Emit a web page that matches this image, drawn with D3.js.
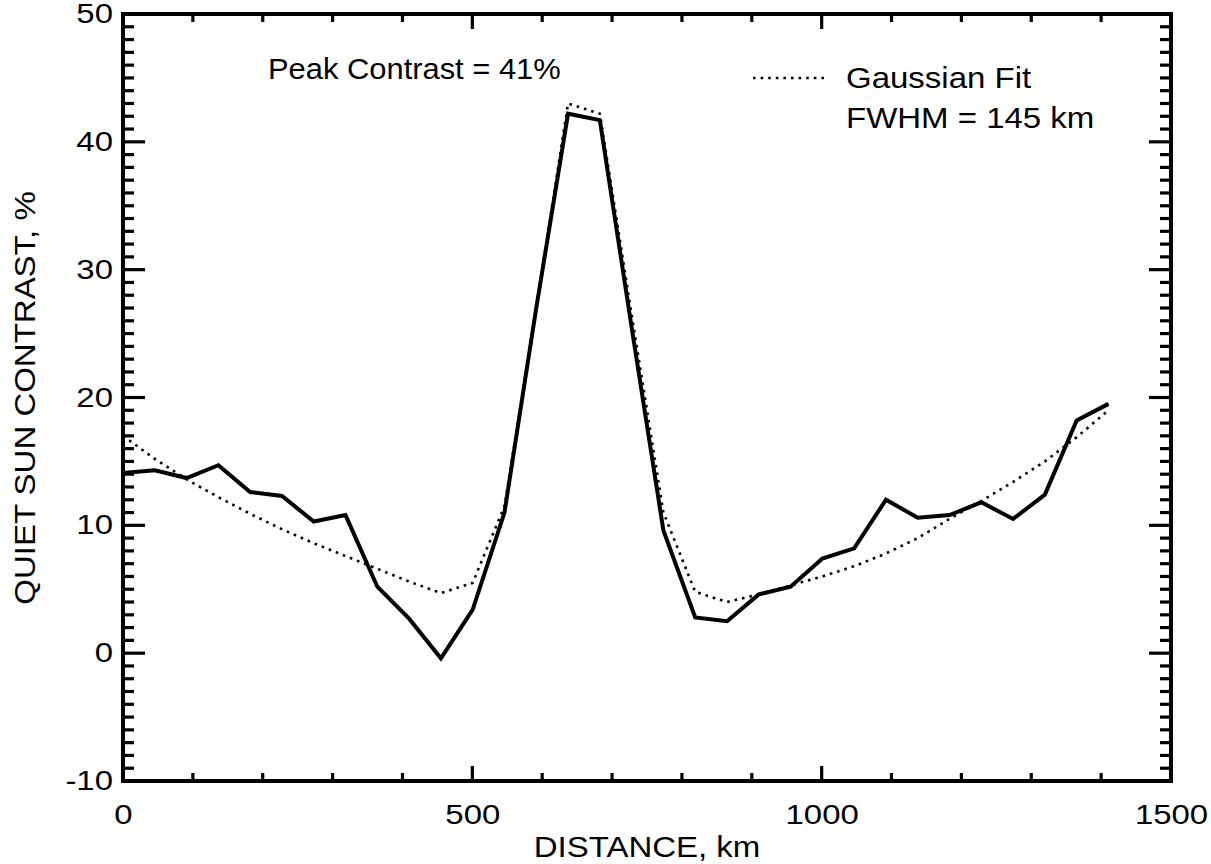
<!DOCTYPE html>
<html>
<head>
<meta charset="utf-8">
<script src="https://cdn.jsdelivr.net/npm/d3@7/dist/d3.min.js"></script>
<style>
  html, body { margin: 0; padding: 0; background: #fff; }
  svg text { font-family: "Liberation Sans", Arial, Helvetica, sans-serif; fill: #000; }
</style>
</head>
<body>
<svg id="chart" width="1211" height="864"></svg>
<script>
// ---- data ----
const distanceKm = [0, 45.5, 91, 136.5, 182, 227.5, 273, 318.5, 364, 409.5, 455, 500.5, 546, 591.5,
  637, 682.5, 728, 773.5, 819, 864.5, 910, 955.5, 1001, 1046.5, 1092, 1137.5, 1183, 1228.5,
  1274, 1319.5, 1365, 1410.5];
const contrast = [14.1, 14.3, 13.7, 14.7, 12.6, 12.3, 10.3, 10.8, 5.2, 2.7, -0.4, 3.4, 11.0, 27.0,
  42.2, 41.7, 25.5, 9.6, 2.8, 2.5, 4.6, 5.2, 7.4, 8.2, 12.0, 10.6, 10.8, 11.8,
  10.5, 12.4, 18.2, 19.5];
const gaussFit = [17.0, 15.2, 13.6, 12.2, 10.9, 9.7, 8.6, 7.6, 6.6, 5.6, 4.7, 5.5, 11.5, 27.0,
  43.0, 42.2, 26.5, 11.0, 4.8, 4.0, 4.6, 5.3, 6.0, 6.8, 7.8, 9.0, 10.5, 11.9,
  13.4, 15.0, 16.9, 19.0];
const xTickValues = [0, 500, 1000, 1500];
const yTickValues = [-10, 0, 10, 20, 30, 40, 50];
const xTitle = "DISTANCE, km";
const yTitle = "QUIET SUN CONTRAST, %";
const peakLabel = "Peak Contrast = 41%";
const legendLines = ["Gaussian Fit", "FWHM = 145 km"];

// ---- layout ----
const svg = d3.select("#chart");
const pL = 123, pR = 1171, pT = 14, pB = 781;
const x = d3.scaleLinear().domain([0, 1500]).range([pL, pR]);
const y = d3.scaleLinear().domain([-10, 50]).range([pB, pT]);
const tickFont = 27, tickSX = 1.22;     // tick labels (wide Helvetica look)
const labFont = 30, labSX = 1.1;        // titles and annotations

// ticks
const yMajorLen = 22, yMinorLen = 11, xMajorLen = 15, xMinorLen = 8;
const tickW = 3.2;
const yMinor = d3.range(-10, 50.001, 1);
const xMinor = d3.range(0, 1500.001, 100);

const g = svg.append("g");

// bottom axis (labels only; tick marks drawn inward below)
const bottomAxis = d3.axisBottom(x).tickValues(xTickValues).tickSize(0).tickPadding(24)
  .tickFormat(d => String(d));
const gb = g.append("g").attr("transform", `translate(0,${pB})`).call(bottomAxis);
gb.select(".domain").remove();
gb.selectAll("text").attr("font-size", tickFont).attr("font-family", "Liberation Sans, Arial, sans-serif")
  .attr("fill", "#000").attr("transform", `scale(${tickSX},1)`);

// left axis
const leftAxis = d3.axisLeft(y).tickValues(yTickValues).tickSize(0).tickPadding(10 / tickSX)
  .tickFormat(d => String(d));
const gl = g.append("g").attr("transform", `translate(${pL},0)`).call(leftAxis);
gl.select(".domain").remove();
gl.selectAll("text").attr("font-size", tickFont).attr("font-family", "Liberation Sans, Arial, sans-serif")
  .attr("fill", "#000").attr("transform", `scale(${tickSX},1)`);

// tick marks (inward, on all four sides)
const ticks = g.append("g").attr("stroke", "#000").attr("stroke-width", tickW);
yMinor.forEach(v => {
  const major = Math.abs(v % 10) < 1e-9;
  const len = major ? yMajorLen : yMinorLen;
  ticks.append("line").attr("x1", pL).attr("x2", pL + len).attr("y1", y(v)).attr("y2", y(v));
  ticks.append("line").attr("x1", pR).attr("x2", pR - len).attr("y1", y(v)).attr("y2", y(v));
});
xMinor.forEach(v => {
  const major = Math.abs(v % 500) < 1e-9;
  const len = major ? xMajorLen : xMinorLen;
  ticks.append("line").attr("x1", x(v)).attr("x2", x(v)).attr("y1", pB).attr("y2", pB - len);
  ticks.append("line").attr("x1", x(v)).attr("x2", x(v)).attr("y1", pT).attr("y2", pT + len);
});

// frame
g.append("rect").attr("x", pL).attr("y", pT).attr("width", pR - pL).attr("height", pB - pT)
  .attr("fill", "none").attr("stroke", "#000").attr("stroke-width", 4);

// lines
const line = d3.line().x((d, i) => x(distanceKm[i])).y(d => y(d));
g.append("path").datum(gaussFit).attr("d", line).attr("fill", "none").attr("stroke", "#000")
  .attr("stroke-width", 2.6).attr("stroke-dasharray", "2.6,5");
g.append("path").datum(contrast).attr("d", line).attr("fill", "none").attr("stroke", "#000")
  .attr("stroke-width", 4).attr("stroke-linejoin", "miter");

// helper for stretched text
function label(xp, yp, txt, opts = {}) {
  const rot = opts.rotate ? ` rotate(${opts.rotate})` : "";
  const sx = opts.sx || labSX;
  return g.append("text")
    .attr("transform", `translate(${xp},${yp})${rot} scale(${sx},1)`)
    .attr("text-anchor", opts.anchor || "start")
    .attr("font-size", labFont)
    .text(txt);
}

// annotations
label(268, 79, peakLabel, { sx: 1.03 });
g.append("line").attr("x1", 753).attr("x2", 827).attr("y1", 78).attr("y2", 78)
  .attr("stroke", "#000").attr("stroke-width", 2.6).attr("stroke-dasharray", "2.6,5");
label(846, 88, legendLines[0]);
label(846, 128, legendLines[1]);

// axis titles
label((pL + pR) / 2, 857, xTitle, { anchor: "middle" });
label(35, 398, yTitle, { anchor: "middle", rotate: -90 });
</script>
</body>
</html>
